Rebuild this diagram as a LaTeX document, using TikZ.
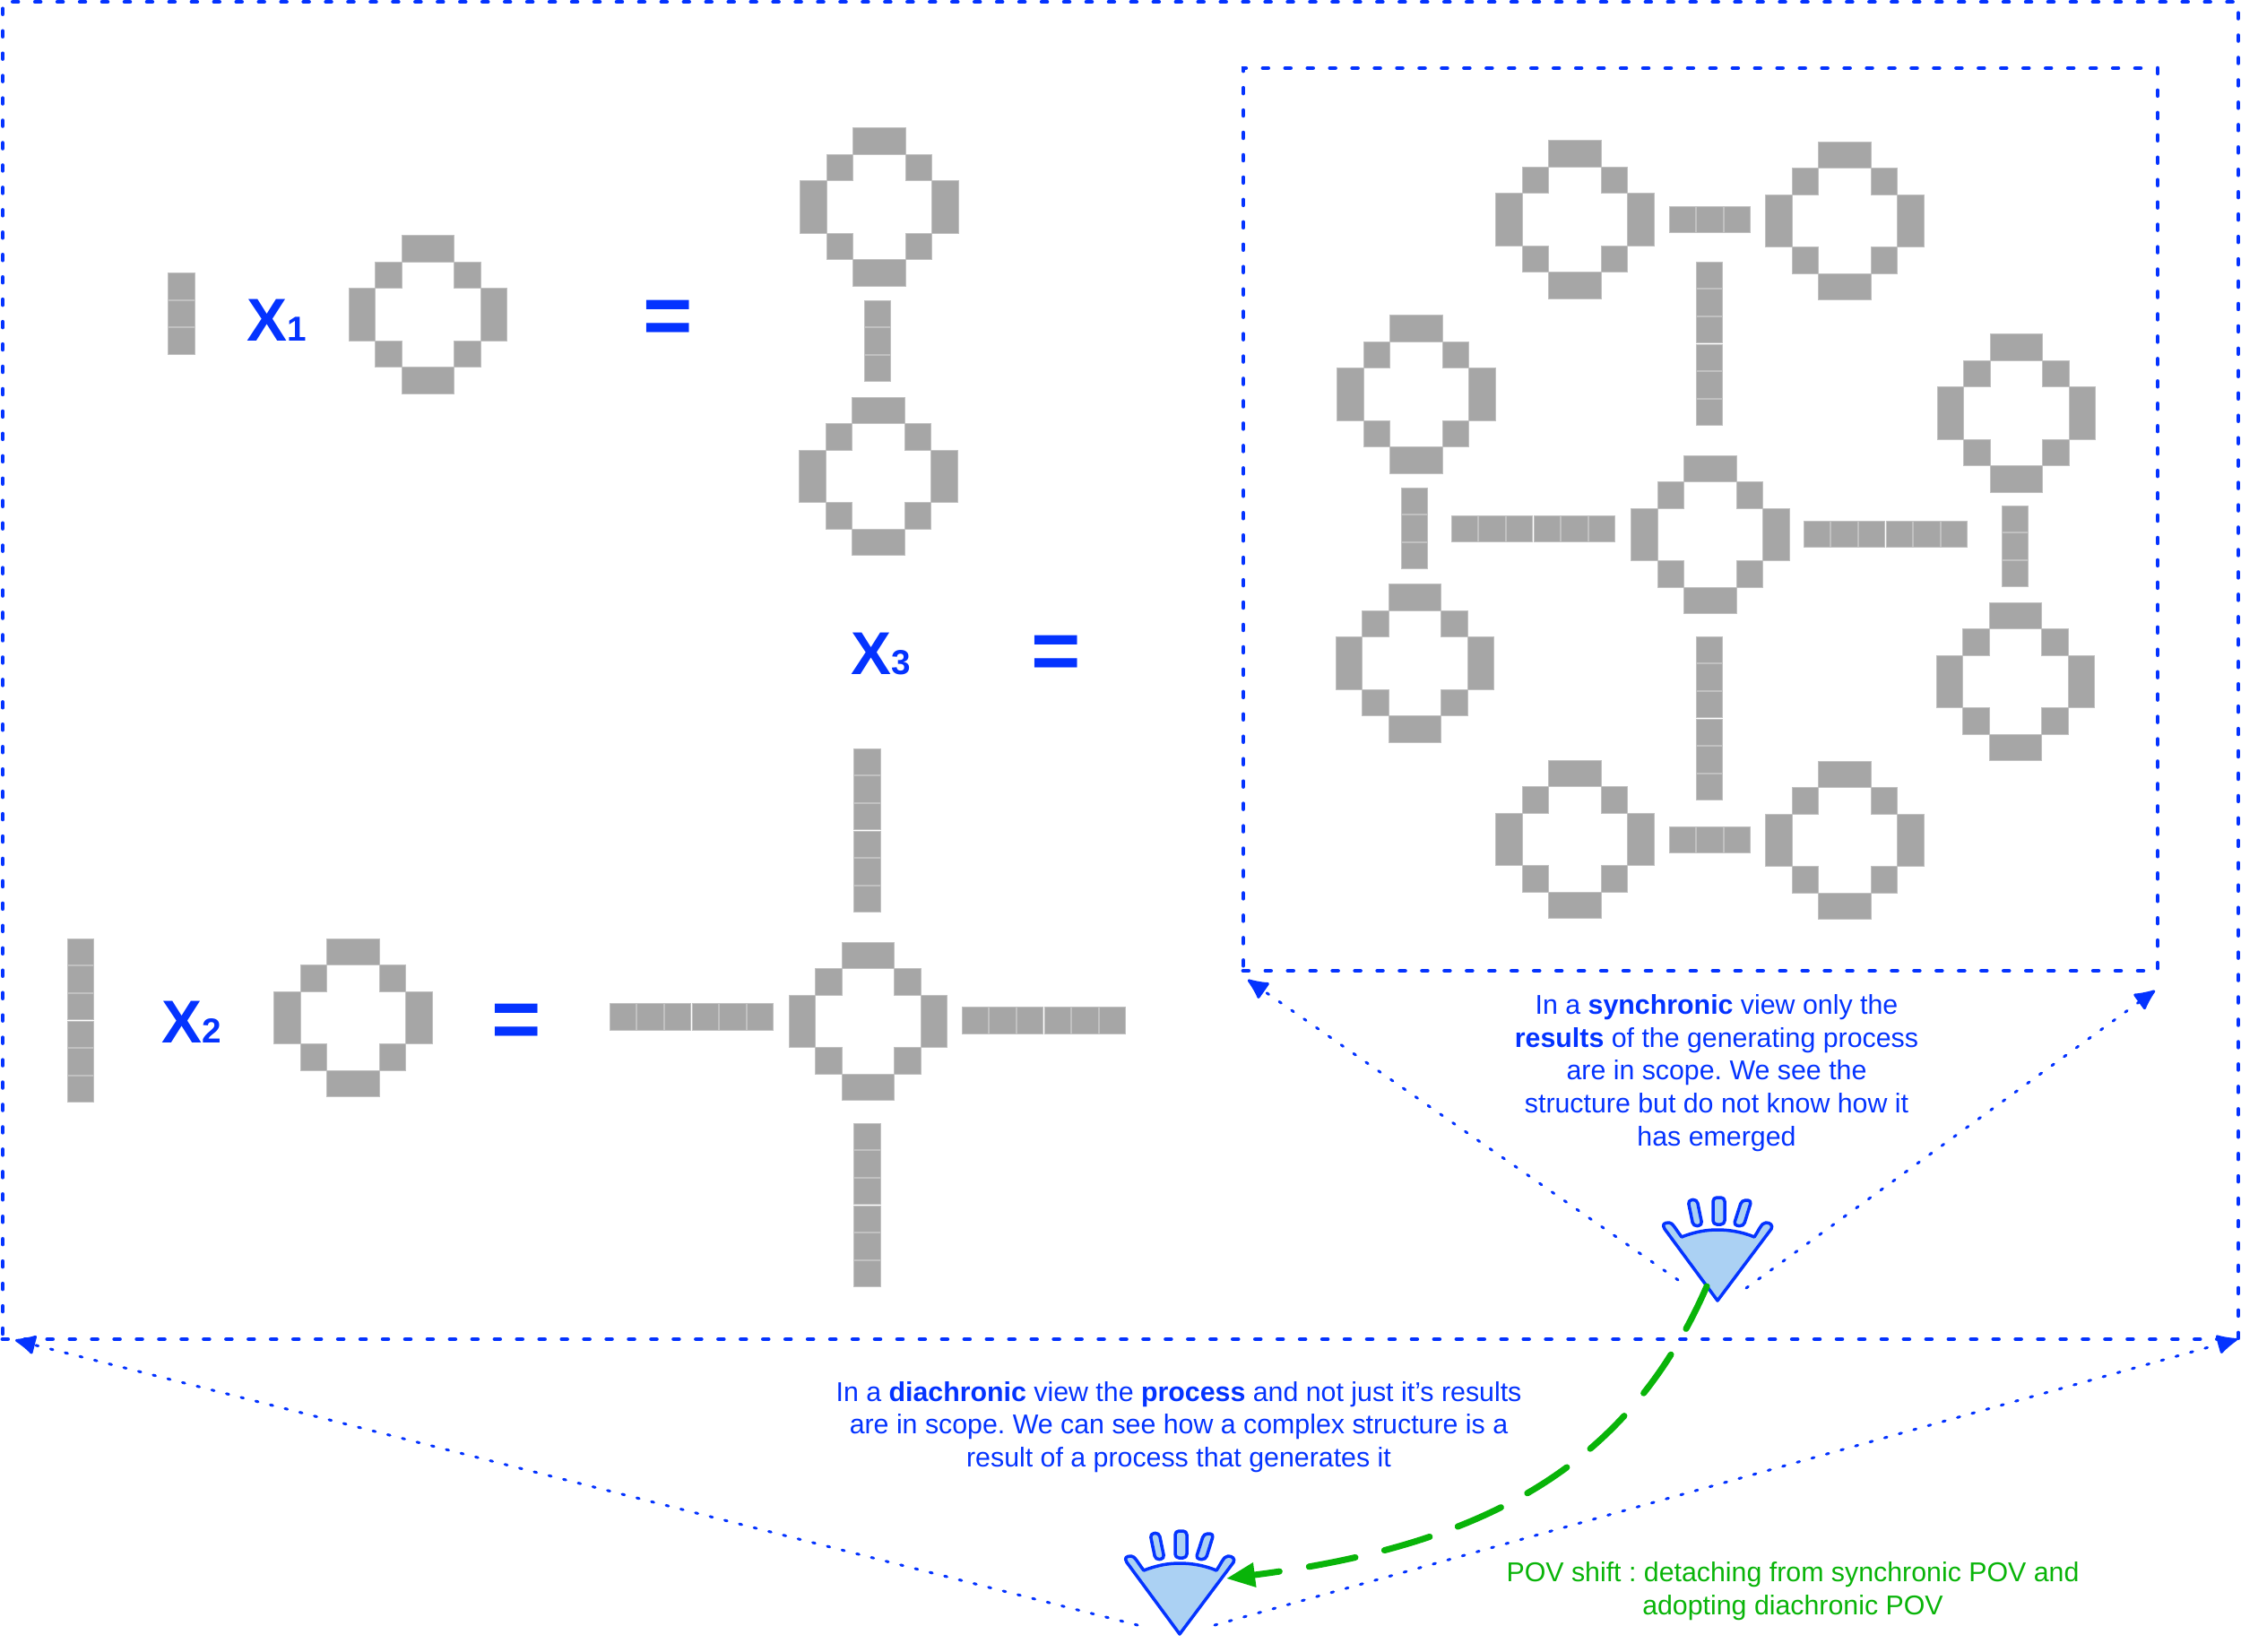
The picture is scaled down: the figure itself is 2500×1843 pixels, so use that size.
\documentclass[tikz,border=0pt]{standalone}
\usepackage{fontspec}
\setmainfont{Liberation Sans}
\usetikzlibrary{arrows.meta}
\definecolor{viewblue}{HTML}{0433FF}
\definecolor{handblue}{HTML}{ABD1F3}
\definecolor{shiftgreen}{HTML}{09B409}
\definecolor{cellgray}{HTML}{A6A6A6}

\begin{document}
\begin{tikzpicture}[
    x=0.1mm,
    y=-0.1mm,
    frame/.style={
        draw=viewblue,
        line width=1.4pt,
        line cap=round,
        dash pattern=on 1.6pt off 5.5pt,
        rectangle,
        inner sep=0pt
    },
    sight/.style={
        draw=viewblue,
        line width=0.85pt,
        line cap=round,
        dash pattern=on 0.8pt off 4pt,
        -{Latex[length=2.6mm,width=2.4mm,round]}
    },
    shiftline/.style={
        draw=shiftgreen,
        line width=2pt,
        line cap=round,
        dash pattern=on 15pt off 9.5pt,
        -{Triangle[length=3.2mm,width=2.6mm,sep=0pt]}
    },
    note/.style={
        font=\fontsize{8.63}{10.42}\selectfont\frenchspacing,
        align=center,
        text=viewblue,
        inner sep=0pt
    },
    factor/.style={
        anchor=base,
        text=viewblue,
        inner sep=0pt,
        font=\bfseries
    },
    equals/.style={
        text=viewblue,
        inner sep=0pt,
        font=\fontsize{27}{27}\selectfont\bfseries
    },
    cell/.style={
        fill=cellgray,
        draw=cellgray!70,
        line width=0.25pt
    },
    skin/.style={
        draw=viewblue,
        fill=handblue,
        line width=1pt,
        line join=round
    },
    pics/ring/.style={
        code={
            \foreach \a/\b/\w/\h in {-29.4/-88.2/58.8/29.4,-29.4/58.8/58.8/29.4,-88.2/-29.4/29.4/58.8,58.8/-29.4/29.4/58.8,-58.8/-58.8/29.4/29.4,29.4/-58.8/29.4/29.4,-58.8/29.4/29.4/29.4,29.4/29.4/29.4/29.4}
                \path[cell] (\a,\b) rectangle ++(\w,\h);
        }
    },
    pics/vbar/.style={
        code={
            \foreach \k [evaluate=\k as \b using (\k-1-#1/2)*30.6] in {1,...,#1}
                \path[cell] (-14.7,\b) rectangle ++(29.4,29.4);
        }
    },
    pics/hbar/.style={
        code={
            \foreach \k [evaluate=\k as \a using (\k-1-#1/2)*30.6] in {1,...,#1}
                \path[cell] (\a,-14.7) rectangle ++(29.4,29.4);
        }
    },
    pics/hand/.style={
        code={
            \path[skin] (0,0) -- (-59,-80) .. controls (-62,-85) and (-60,-87) .. (-54,-87)
                .. controls (-50,-87) and (-47,-80) .. (-40,-71)
                .. controls (-25,-77) and (-12,-79) .. (0,-79)
                .. controls (12,-79) and (27,-77) .. (41,-71)
                .. controls (46,-78) and (49,-87) .. (54,-87)
                .. controls (59,-87) and (62,-84) .. (60,-80) -- cycle;
            \path[skin,rounded corners=1.2pt] (-33,-112) -- (-23,-113) -- (-17,-84) -- (-27,-83) -- cycle;
            \path[skin,rounded corners=1.2pt] (-5,-115) -- (8,-115) -- (8,-85) -- (-5,-85) -- cycle;
            \path[skin,rounded corners=1.2pt] (27,-112) -- (38,-112) -- (29,-83) -- (18,-84) -- cycle;
        }
    }
]

\useasboundingbox (0,0) rectangle (2500,1843);

\node[frame,minimum width=24.94cm,minimum height=14.92cm] (wholeFrame) at (1250,748) {};
\node[frame,minimum width=10.2cm,minimum height=10.07cm] (partFrame) at (1897,579.5) {};

\pic at (202.5,350.5) {vbar=3};
\node[factor] (xOne) at (309,380) {{\fontsize{19.2}{20}\selectfont X}{\fontsize{11}{12}\selectfont 1}};
\pic at (477.5,351) {ring};
\node[equals] (eqOne) at (745,360) {=};
\pic at (981,231) {ring};
\pic at (979,381) {vbar=3};
\pic at (980,531.5) {ring};

\node[factor] (xThree) at (983,752) {{\fontsize{19.2}{20}\selectfont X}{\fontsize{11}{12}\selectfont 3}};
\node[equals] (eqThree) at (1178,734) {=};

\pic at (90,1139) {vbar=6};
\node[factor] (xTwo) at (214,1163) {{\fontsize{19.2}{20}\selectfont X}{\fontsize{11}{12}\selectfont 2}};
\pic at (394,1135.5) {ring};
\node[equals] (eqTwo) at (576,1145) {=};
\pic at (772,1134.5) {hbar=6};
\pic at (968.5,1139.5) {ring};
\pic at (1165,1138.5) {hbar=6};
\pic at (967.5,927) {vbar=6};
\pic at (967.5,1345) {vbar=6};

\pic at (1757,245) {ring};
\pic at (1908,245) {hbar=3};
\pic at (2058,246.5) {ring};
\pic at (1907,384) {vbar=6};
\pic at (1580,440) {ring};
\pic at (1578,590) {vbar=3};
\pic at (1578.5,740) {ring};
\pic at (1711,590) {hbar=6};
\pic at (1908,596.5) {ring};
\pic at (2104,596) {hbar=6};
\pic at (2249.5,461) {ring};
\pic at (2248,610) {vbar=3};
\pic at (2248.5,760.5) {ring};
\pic at (1907,802) {vbar=6};
\pic at (1757,936.5) {ring};
\pic at (1908,937) {hbar=3};
\pic at (2058,937.5) {ring};

\node[note] (synNote) at (1915,1197) {In a \textbf{synchronic} view only the\\\textbf{results} of the generating process\\are in scope. We see the\\structure but do not know how it\\has emerged};
\node[note] (diaNote) at (1315,1592) {In a \textbf{diachronic} view the \textbf{process} and not just it’s results\\are in scope. We can see how a complex structure is a\\result of a process that generates it};
\node[note,text=shiftgreen] (shiftNote) at (2000,1775) {POV shift : detaching from synchronic POV and\\adopting diachronic POV};

\pic at (1916,1451) {hand};
\pic at (1316,1823) {hand};

\coordinate (synLeftFrom) at (1872,1428);
\coordinate (synLeftTo) at (1392,1093);
\coordinate (synRightFrom) at (1948,1437);
\coordinate (synRightTo) at (2404,1105);
\coordinate (diaLeftFrom) at (1269,1813);
\coordinate (diaLeftTo) at (17,1495);
\coordinate (diaRightFrom) at (1355,1813);
\coordinate (diaRightTo) at (2496,1494);
\coordinate (shiftFrom) at (1904,1435);
\coordinate (shiftTo) at (1368,1761);

\draw[sight] (synLeftFrom) -- (synLeftTo);
\draw[sight] (synRightFrom) -- (synRightTo);
\draw[sight] (diaLeftFrom) -- (diaLeftTo);
\draw[sight] (diaRightFrom) -- (diaRightTo);
\draw[shiftline] (shiftFrom) .. controls (1815,1640) and (1650,1725) .. (shiftTo);

\end{tikzpicture}
\end{document}
